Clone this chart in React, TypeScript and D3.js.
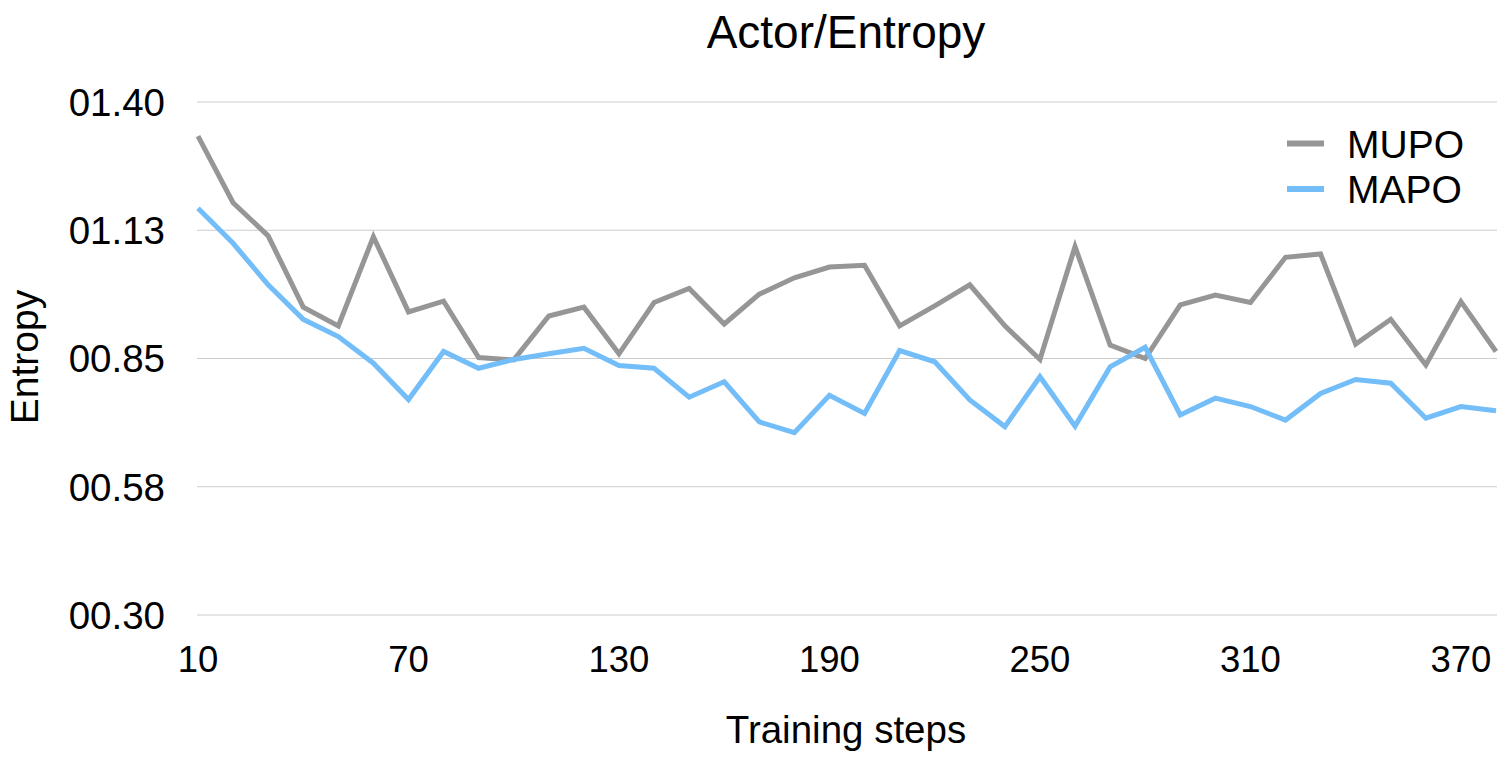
import React, { useEffect } from "react";
import * as d3 from "d3";

const steps = [10, 20, 30, 40, 50, 60, 70, 80, 90, 100, 110, 120, 130, 140, 150, 160, 170, 180, 190, 200, 210, 220, 230, 240, 250, 260, 270, 280, 290, 300, 310, 320, 330, 340, 350, 360, 370, 380];
const mupo = [1.327, 1.184, 1.113, 0.96, 0.92, 1.111, 0.95, 0.973, 0.852, 0.847, 0.941, 0.96, 0.86, 0.97, 1.0, 0.924, 0.988, 1.023, 1.046, 1.05, 0.92, 0.963, 1.008, 0.92, 0.848, 1.09, 0.879, 0.85, 0.965, 0.986, 0.97, 1.067, 1.074, 0.881, 0.934, 0.836, 0.972, 0.865];
const mapo = [1.172, 1.097, 1.008, 0.934, 0.897, 0.84, 0.762, 0.865, 0.829, 0.848, 0.86, 0.872, 0.835, 0.829, 0.767, 0.8, 0.714, 0.691, 0.771, 0.732, 0.867, 0.843, 0.761, 0.704, 0.811, 0.705, 0.832, 0.874, 0.729, 0.765, 0.747, 0.718, 0.775, 0.805, 0.797, 0.722, 0.747, 0.738];
const yTicks = [0.3, 0.575, 0.85, 1.125, 1.4];
const yTickLabels = ["00.30", "00.58", "00.85", "01.13", "01.40"];
const xTicks = [10, 70, 130, 190, 250, 310, 370];
const seriesNames = ["MUPO", "MAPO"];
const seriesColors = ["#969696", "#73bdf8"];

const W = 1503;
const H = 759;
const FONT = "'Liberation Sans', Arial, Helvetica, sans-serif";

export default function App() {
  useEffect(() => {
    document.body.style.margin = "0";
  }, []);

  const x = d3.scaleLinear().domain([10, 380]).range([198, 1496]);
  const y = d3.scaleLinear().domain([0.3, 1.4]).range([615, 102]);
  const line = d3
    .line<number>()
    .x((_, i) => x(steps[i]))
    .y((d) => y(d));
  const series = [mupo, mapo];

  return (
    <svg width={W} height={H} style={{ display: "block", background: "#fff" }} fontFamily={FONT}>
      {yTicks.map((t, i) => (
        <g key={"g" + i}>
          <line x1={197} x2={1497} y1={y(t)} y2={y(t)} stroke="#cccccc" strokeWidth={1} />
          <text x={165} y={y(t)} dy="0.36em" textAnchor="end" fontSize={38.5} fill="#000">
            {yTickLabels[i]}
          </text>
        </g>
      ))}
      {xTicks.map((t) => (
        <text key={"x" + t} x={x(t)} y={672} textAnchor="middle" fontSize={36.5} fill="#000">
          {t}
        </text>
      ))}
      {series.map((s, i) => (
        <path
          key={"s" + i}
          d={line(s) || ""}
          fill="none"
          stroke={seriesColors[i]}
          strokeWidth={5}
          strokeLinejoin="miter"
        />
      ))}
      <text x={846} y={48} textAnchor="middle" fontSize={46} fill="#000">
        Actor/Entropy
      </text>
      <text x={846} y={743} textAnchor="middle" fontSize={38.5} fill="#000">
        Training steps
      </text>
      <text
        transform="translate(38,357) rotate(-90)"
        textAnchor="middle"
        fontSize={39}
        fill="#000"
      >
        Entropy
      </text>
      {seriesNames.map((n, i) => (
        <g key={"l" + i}>
          <line x1={1287} x2={1324} y1={143.5 + i * 45.5} y2={143.5 + i * 45.5} stroke={seriesColors[i]} strokeWidth={6} />
          <text x={1347} y={143.5 + i * 45.5} dy="0.36em" fontSize={39} fill="#000">
            {n}
          </text>
        </g>
      ))}
    </svg>
  );
}
